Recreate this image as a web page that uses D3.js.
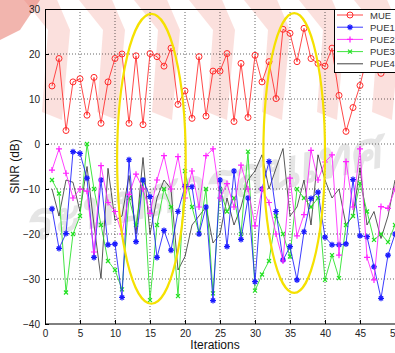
<!DOCTYPE html>
<html>
<head>
<meta charset="utf-8">
<script src="https://cdn.jsdelivr.net/npm/d3@7/dist/d3.min.js"></script>
<style>
  body { margin: 0; background: #fff; }
  svg { display: block; font-family: "Liberation Sans", Arial, sans-serif; }
  .grid line { stroke: #000; stroke-dasharray: 1,2; stroke-width: 0.8; opacity: 0.75; }
  .axis text { font-size: 10px; fill: #222; }
  .axis path, .axis line { stroke: #000; }
</style>
</head>
<body>
<div id="chart"></div>
<script>
// Iterations 1..50
var iterations = d3.range(1, 51);

var mue = [12.9, 19.0, 3.0, 13.8, 14.5, 6.4, 14.8, 4.6, 13.8, 19.0,
  20.0, 4.6, 19.6, 4.3, 20.1, 19.4, 17.3, 21.3, 8.8, 11.8,
  5.7, 19.4, 6.2, 16.2, 16.2, 20.1, 5.0, 17.9, 5.9, 19.7,
  13.8, 18.3, 10.1, 25.5, 24.6, 18.3, 25.7, 19.0, 17.9, 17.3,
  21.3, 10.8, 2.8, 8.1, 13.0, 19.5, 22.0, 15.7, 18.0, 20.0];

var pue1 = [-14.4, -23.2, -19.9, -1.7, -2.1, -7.6, -25.2, -8.0, -22.4, -22.2,
  -34.1, -3.5, -21.7, -8.0, -11.7, -25.2, -19.2, -23.6, -15.0, -9.4,
  -9.5, -20.0, -14.0, -34.8, -8.0, -22.8, -6.0, -21.2, -12.0, -30.6,
  -10.0, -3.9, -15.0, -25.8, -22.8, -30.2, -19.5, -12.1, -10.7, -20.7,
  -22.4, -22.4, -22.2, -7.9, -20.4, -20.6, -27.3, -34.3, -24.7, -20.0];

var pue2 = [-5.8, -1.1, -6.5, -12.0, -10.0, -10.5, -24.0, -4.8, -13.0, -15.0,
  -20.0, -11.2, -6.7, -10.0, -15.4, -8.0, -2.6, -10.0, -2.8, -12.0,
  -6.0, -14.0, -2.6, -1.1, -12.0, -8.8, -14.0, -4.7, -10.0, -18.2,
  -10.0, -13.0, -20.0, -26.0, -7.6, -20.4, -15.7, -1.4, -8.0, -4.0,
  -2.4, -24.7, -3.9, -14.0, -1.1, -25.2, -30.2, -13.9, -14.3, -10.0];

var pue3 = [-8.0, -11.0, -33.0, -20.0, -16.0, 0.0, -10.0, -18.0, -26.0, -28.0,
  -32.3, -12.0, -18.0, -8.0, -34.7, -18.0, -10.0, -14.0, -33.8, -6.0,
  -14.0, -19.8, -10.0, -33.2, -10.0, -15.0, -12.0, -20.0, -1.7, -32.6,
  -29.0, -26.0, -16.0, -20.0, -25.0, -10.0, -12.0, -14.0, -12.0, -30.2,
  -24.7, -29.8, -18.0, -16.0, -8.7, -15.0, -21.3, -20.0, -21.8, -18.0];

var pue4 = [-10.0, -16.0, -8.0, -8.5, -15.0, -5.0, -18.0, -29.9, -5.4, -17.0,
  -16.0, -7.0, -20.0, -3.0, -20.0, -12.0, -8.0, -10.0, -28.0, -25.0,
  -18.0, -16.0, -14.0, -22.0, -20.0, -12.0, -18.0, -14.0, -8.0, -6.0,
  -2.4, -10.0, -5.4, -1.0, -16.0, -14.0, -8.0, -18.0, -2.4, -8.0,
  -12.0, -10.0, -18.0, -16.0, -5.3, -18.0, -15.0, -21.0, -16.0, -8.0];

var seriesNames = ["MUE", "PUE1", "PUE2", "PUE3", "PUE4"];
var xTicks = [0, 5, 10, 15, 20, 25, 30, 35, 40, 45, 50];
var yTicks = [30, 20, 10, 0, -10, -20, -30, -40];

// highlighted regions (centre x, centre y, half-width in iterations, half-height in dB)
var highlights = [
  { cx: 15.2, cy: -3.3, rx: 4.9, ry: 32.2 },
  { cx: 35.6, cy: -2.0, rx: 4.4, ry: 31.1 }
];

var render = function() {
  var width = 395;
  var height = 353;
  var margins = { top: 9, right: 0, bottom: 29, left: 45 };

  var svg = d3.select("#chart").append("svg")
    .attr("width", width)
    .attr("height", height);

  // faint watermark in the background
  var wm = svg.append("g").attr("class", "watermark");
  [0, 55, 110, 165, 220, 275, 330].forEach(function(x0) {
    wm.append("path")
      .attr("d", `M${x0 + 20},${-5} L${x0 + 55},${-5} L${x0 + 70},30 L${x0 + 62},${120} L${x0 + 42},${112} L${x0 + 48},30 Z`)
      .attr("fill", "#f3a79d")
      .attr("opacity", 0.35);
  });
  wm.append("path")
    .attr("d", "M0,0 L40,0 L20,30 L0,40 Z")
    .attr("fill", "#e8796c")
    .attr("opacity", 0.55);
  wm.append("text")
    .attr("x", 20).attr("y", 205)
    .attr("transform", "rotate(-12 200 190)")
    .attr("font-size", 52)
    .attr("font-weight", "bold")
    .attr("font-style", "italic")
    .attr("fill", "#9a9a9a")
    .attr("opacity", 0.25)
    .text("ระบบสารสนเทศ");

  var chartWidth = width - margins.left - margins.right;
  var chartHeight = height - margins.top - margins.bottom;

  var chart = svg.append("g")
    .attr("transform", `translate(${margins.left},${margins.top})`);

  var xScale = d3.scaleLinear().domain([0, 50]).range([0, chartWidth]);
  var yScale = d3.scaleLinear().domain([-40, 30]).range([chartHeight, 0]);

  // grid
  chart.append("g").attr("class", "grid")
    .selectAll("line").data(xTicks.slice(1, -1)).enter().append("line")
    .attr("x1", d => xScale(d)).attr("x2", d => xScale(d))
    .attr("y1", 0).attr("y2", chartHeight);
  chart.append("g").attr("class", "grid")
    .selectAll("line").data(yTicks.slice(1, -1)).enter().append("line")
    .attr("y1", d => yScale(d)).attr("y2", d => yScale(d))
    .attr("x1", 0).attr("x2", chartWidth);

  // axes (MATLAB style: ticks inside)
  var xAxis = d3.axisBottom(xScale).tickValues(xTicks).tickSize(-4).tickPadding(6);
  var yAxis = d3.axisLeft(yScale).tickValues(yTicks).tickSize(-4).tickPadding(5);
  chart.append("g").attr("class", "x axis")
    .attr("transform", `translate(0,${chartHeight})`).call(xAxis)
    .call(g => g.select(".domain").remove());
  chart.append("g").attr("class", "y axis").call(yAxis)
    .call(g => g.select(".domain").remove());

  chart.append("rect")
    .attr("x", 0.5).attr("y", 0.5)
    .attr("width", chartWidth).attr("height", chartHeight - 0.5)
    .attr("fill", "none").attr("stroke", "#000").attr("stroke-width", 1);

  var line = d3.line()
    .x((d, i) => xScale(iterations[i]))
    .y(d => yScale(d));

  var series = [
    { name: "MUE", values: mue, color: "#ff2a2a", marker: "circle" },
    { name: "PUE1", values: pue1, color: "#1a1aff", marker: "star" },
    { name: "PUE2", values: pue2, color: "#ff22ff", marker: "plus" },
    { name: "PUE3", values: pue3, color: "#22e022", marker: "cross" },
    { name: "PUE4", values: pue4, color: "#222222", marker: "none" }
  ];

  var markerPath = function(type, s) {
    if (type === "plus") return `M${-s},0H${s}M0,${-s}V${s}`;
    if (type === "cross") return `M${-s},${-s}L${s},${s}M${-s},${s}L${s},${-s}`;
    if (type === "star") {
      var k = s * 0.7;
      return `M${-s},0H${s}M0,${-s}V${s}M${-k},${-k}L${k},${k}M${-k},${k}L${k},${-k}`;
    }
    return "";
  };

  var drawOrder = [4, 3, 1, 2, 0];
  drawOrder.forEach(function(idx) {
    var s = series[idx];
    var g = chart.append("g").attr("class", "series " + s.name);
    g.append("path")
      .datum(s.values)
      .attr("d", line)
      .attr("fill", "none")
      .attr("stroke", s.color)
      .attr("stroke-width", 1)
      .attr("opacity", idx === 4 ? 0.75 : 0.85);
    if (s.marker === "circle") {
      g.selectAll("circle").data(s.values).enter().append("circle")
        .attr("cx", (d, i) => xScale(iterations[i]))
        .attr("cy", d => yScale(d))
        .attr("r", 3)
        .attr("fill", "none")
        .attr("stroke", s.color)
        .attr("stroke-width", 1);
    } else if (s.marker !== "none") {
      g.selectAll("path.m").data(s.values).enter().append("path")
        .attr("class", "m")
        .attr("transform", (d, i) => `translate(${xScale(iterations[i])},${yScale(d)})`)
        .attr("d", markerPath(s.marker, s.marker === "cross" ? 2 : 3))
        .attr("stroke", s.color)
        .attr("stroke-width", 1.2);
    }
  });

  // yellow highlight ellipses
  chart.append("g").attr("class", "highlights")
    .selectAll("ellipse").data(highlights).enter().append("ellipse")
    .attr("cx", d => xScale(d.cx))
    .attr("cy", d => yScale(d.cy))
    .attr("rx", d => xScale(d.rx) - xScale(0))
    .attr("ry", d => yScale(0) - yScale(d.ry))
    .attr("fill", "none")
    .attr("stroke", "#f5e100")
    .attr("stroke-width", 2.2);

  // legend
  var legend = svg.append("g").attr("transform", "translate(334,9)");
  legend.append("rect")
    .attr("x", 0.5).attr("y", 0.5)
    .attr("width", 62).attr("height", 63)
    .attr("fill", "#fff").attr("stroke", "#000").attr("stroke-width", 1);
  series.forEach(function(s, i) {
    var ly = 6 + i * 12.2;
    var item = legend.append("g").attr("transform", `translate(0,${ly})`);
    item.append("line")
      .attr("x1", 3).attr("x2", 29)
      .attr("stroke", s.color).attr("stroke-width", 1)
      .attr("opacity", 0.85);
    if (s.marker === "circle") {
      item.append("circle").attr("cx", 16).attr("r", 3)
        .attr("fill", "none").attr("stroke", s.color);
    } else if (s.marker !== "none") {
      item.append("path")
        .attr("transform", "translate(16,0)")
        .attr("d", markerPath(s.marker, s.marker === "cross" ? 2 : 3))
        .attr("stroke", s.color).attr("stroke-width", 1.2);
    }
    item.append("text")
      .attr("x", 36).attr("y", 3.5)
      .attr("font-size", 9.5)
      .attr("fill", "#333")
      .text(seriesNames[i]);
  });

  // axis titles
  svg.append("text")
    .attr("x", margins.left + chartWidth / 2 - 5)
    .attr("y", 349)
    .attr("text-anchor", "middle")
    .attr("font-size", 12)
    .attr("fill", "#111")
    .text("Iterations");
  svg.append("text")
    .attr("transform", `translate(19,${margins.top + chartHeight / 2}) rotate(-90)`)
    .attr("text-anchor", "middle")
    .attr("font-size", 12)
    .attr("fill", "#111")
    .text("SINR (dB)");
};

render();
</script>
</body>
</html>
